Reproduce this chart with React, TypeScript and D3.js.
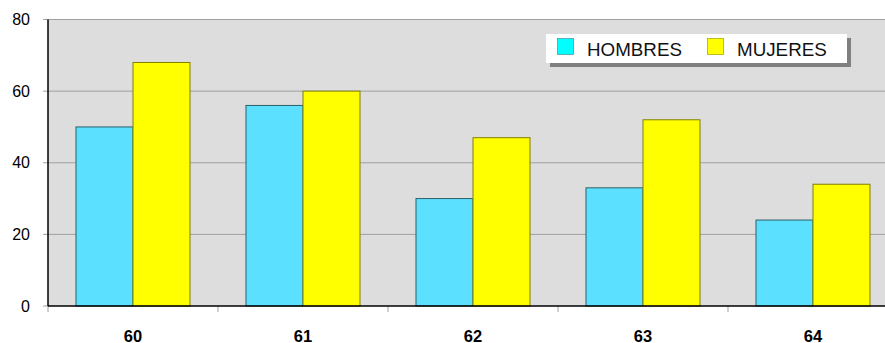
import React from "react";
import * as d3 from "d3";

const categories = ["60", "61", "62", "63", "64"];
const seriesNames = ["HOMBRES", "MUJERES"];
const hombres = [50, 56, 30, 33, 24];
const mujeres = [68, 60, 47, 52, 34];
const yTicks = [0, 20, 40, 60, 80];

export default function App() {
  const W = 885, H = 343;
  const left = 48, right = 898, top = 19.5, bottom = 306;
  const x = d3.scaleBand().domain(categories).range([left, right]).paddingInner(0).paddingOuter(0);
  const y = d3.scaleLinear().domain([0, 80]).range([bottom, top]);
  const bw = 57;
  const font = "'Liberation Sans', Arial, sans-serif";
  const data = [hombres, mujeres];
  const fills = ["#5BE1FF", "#FFFF00"];
  const strokes = ["#2F5F68", "#808000"];
  const swatch = ["#00FFFF", "#FFFF00"];
  return (
    <svg width={W} height={H} style={{ position: "absolute", left: 0, top: 0 }} fontFamily={font}>
      <rect x={left} y={top} width={right - left} height={bottom - top} fill="#DDDDDD" />
      {yTicks.map((t) => (
        <g key={t}>
          {t > 0 && <line x1={left} x2={right} y1={y(t)} y2={y(t)} stroke="#A0A0A0" strokeWidth={1} />}
          <line x1={left - 5} x2={left} y1={y(t)} y2={y(t)} stroke="#A0A0A0" />
          <text x={30} y={y(t)} textAnchor="end" dominantBaseline="central" fontSize={16} fill="#000">{t}</text>
        </g>
      ))}
      {categories.map((c, i) => (
        <g key={c}>
          {data.map((s, j) => {
            const cx = (x(c) as number) + x.bandwidth() / 2;
            const bx = cx - bw + j * bw;
            return (
              <rect key={j} x={bx} y={y(s[i])} width={bw} height={bottom - y(s[i])}
                fill={fills[j]} stroke={strokes[j]} strokeWidth={1} />
            );
          })}
          <text x={(x(c) as number) + x.bandwidth() / 2} y={341.5} textAnchor="middle" fontSize={16.5} fontWeight="bold">{c}</text>
        </g>
      ))}
      {categories.map((c) => (
        <line key={"t" + c} x1={(x(c) as number)} x2={(x(c) as number)} y1={bottom} y2={bottom + 6} stroke="#A0A0A0" />
      ))}
      <line x1={left} x2={right} y1={bottom} y2={bottom} stroke="#000" strokeWidth={1.5} />
      <line x1={left} x2={left} y1={top} y2={bottom} stroke="#000" strokeWidth={1.5} />
      <g>
        <rect x={550} y={38} width={301} height={29} fill="#808080" />
        <rect x={546} y={34} width={301} height={29} fill="#FFFFFF" />
        {seriesNames.map((n, j) => (
          <g key={n}>
            <rect x={557.5 + j * 150} y={38.5} width={16} height={16} fill={swatch[j]} stroke={j === 0 ? "#4BA0A8" : "#B0B000"} strokeWidth={0.8} />
            <text x={587 + j * 150} y={56} fontSize={18.8} fill="#111">{n}</text>
          </g>
        ))}
      </g>
    </svg>
  );
}
